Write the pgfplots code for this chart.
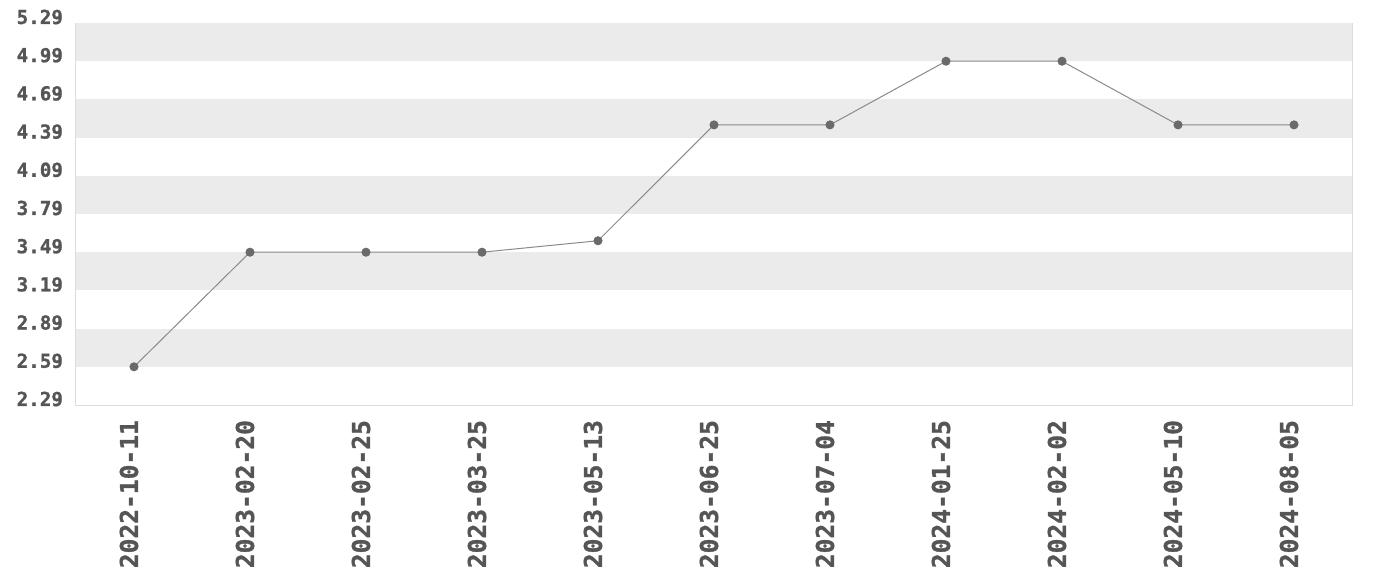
\documentclass[border=0pt]{standalone}
\usepackage{fontspec}
\usepackage{pgfplots}
\pgfplotsset{compat=1.18}
\newfontfamily\labfont{DejaVu Sans Mono}[BoldFeatures={FakeBold=1.2}]
\definecolor{band}{HTML}{EBEBEB}
\definecolor{labc}{HTML}{555555}
\definecolor{linec}{HTML}{8A8A8A}
\definecolor{markc}{HTML}{6A6A6A}
\definecolor{framec}{HTML}{DDDDDD}
\begin{document}
\begin{tikzpicture}
\useasboundingbox (-38pt,-87.5pt) rectangle (652pt,202.5pt);
\begin{axis}[
  at={(0,0)}, anchor=south west,
  scale only axis,
  width=638pt, height=191pt,
  xmin=-0.5, xmax=10.5,
  ymin=2.29, ymax=5.29,
  xtick={0,...,10},
  xticklabels={2022-10-11,2023-02-20,2023-02-25,2023-03-25,2023-05-13,2023-06-25,2023-07-04,2024-01-25,2024-02-02,2024-05-10,2024-08-05},
  ytick={2.29,2.59,2.89,3.19,3.49,3.79,4.09,4.39,4.69,4.99,5.29},
  yticklabels={2.29,2.59,2.89,3.19,3.49,3.79,4.09,4.39,4.69,4.99,5.29},
  major tick length=0pt,
  axis line style={framec, line width=0.5pt},
  xticklabel style={rotate=90, anchor=east, font=\labfont\bfseries\fontsize{12.3}{12.3}\selectfont, text=labc},
  yticklabel style={font=\labfont\bfseries\fontsize{9.6}{9.6}\selectfont, text=labc},
  xtick pos=bottom, ytick pos=left,
  x tick label style={xshift=-4pt, yshift=2.5pt},
  y tick label style={xshift=-3pt, yshift=3pt},
]
\fill[band] (axis cs:-0.5,4.99) rectangle (axis cs:10.5,5.29);
\fill[band] (axis cs:-0.5,4.39) rectangle (axis cs:10.5,4.69);
\fill[band] (axis cs:-0.5,3.79) rectangle (axis cs:10.5,4.09);
\fill[band] (axis cs:-0.5,3.19) rectangle (axis cs:10.5,3.49);
\fill[band] (axis cs:-0.5,2.59) rectangle (axis cs:10.5,2.89);
\addplot[linec, line width=0.5pt, mark=*, mark size=2pt, mark options={fill=markc, draw=markc}] coordinates {
(0,2.59) (1,3.49) (2,3.49) (3,3.49) (4,3.58) (5,4.49) (6,4.49) (7,4.99) (8,4.99) (9,4.49) (10,4.49)
};
\end{axis}
\end{tikzpicture}
\end{document}
